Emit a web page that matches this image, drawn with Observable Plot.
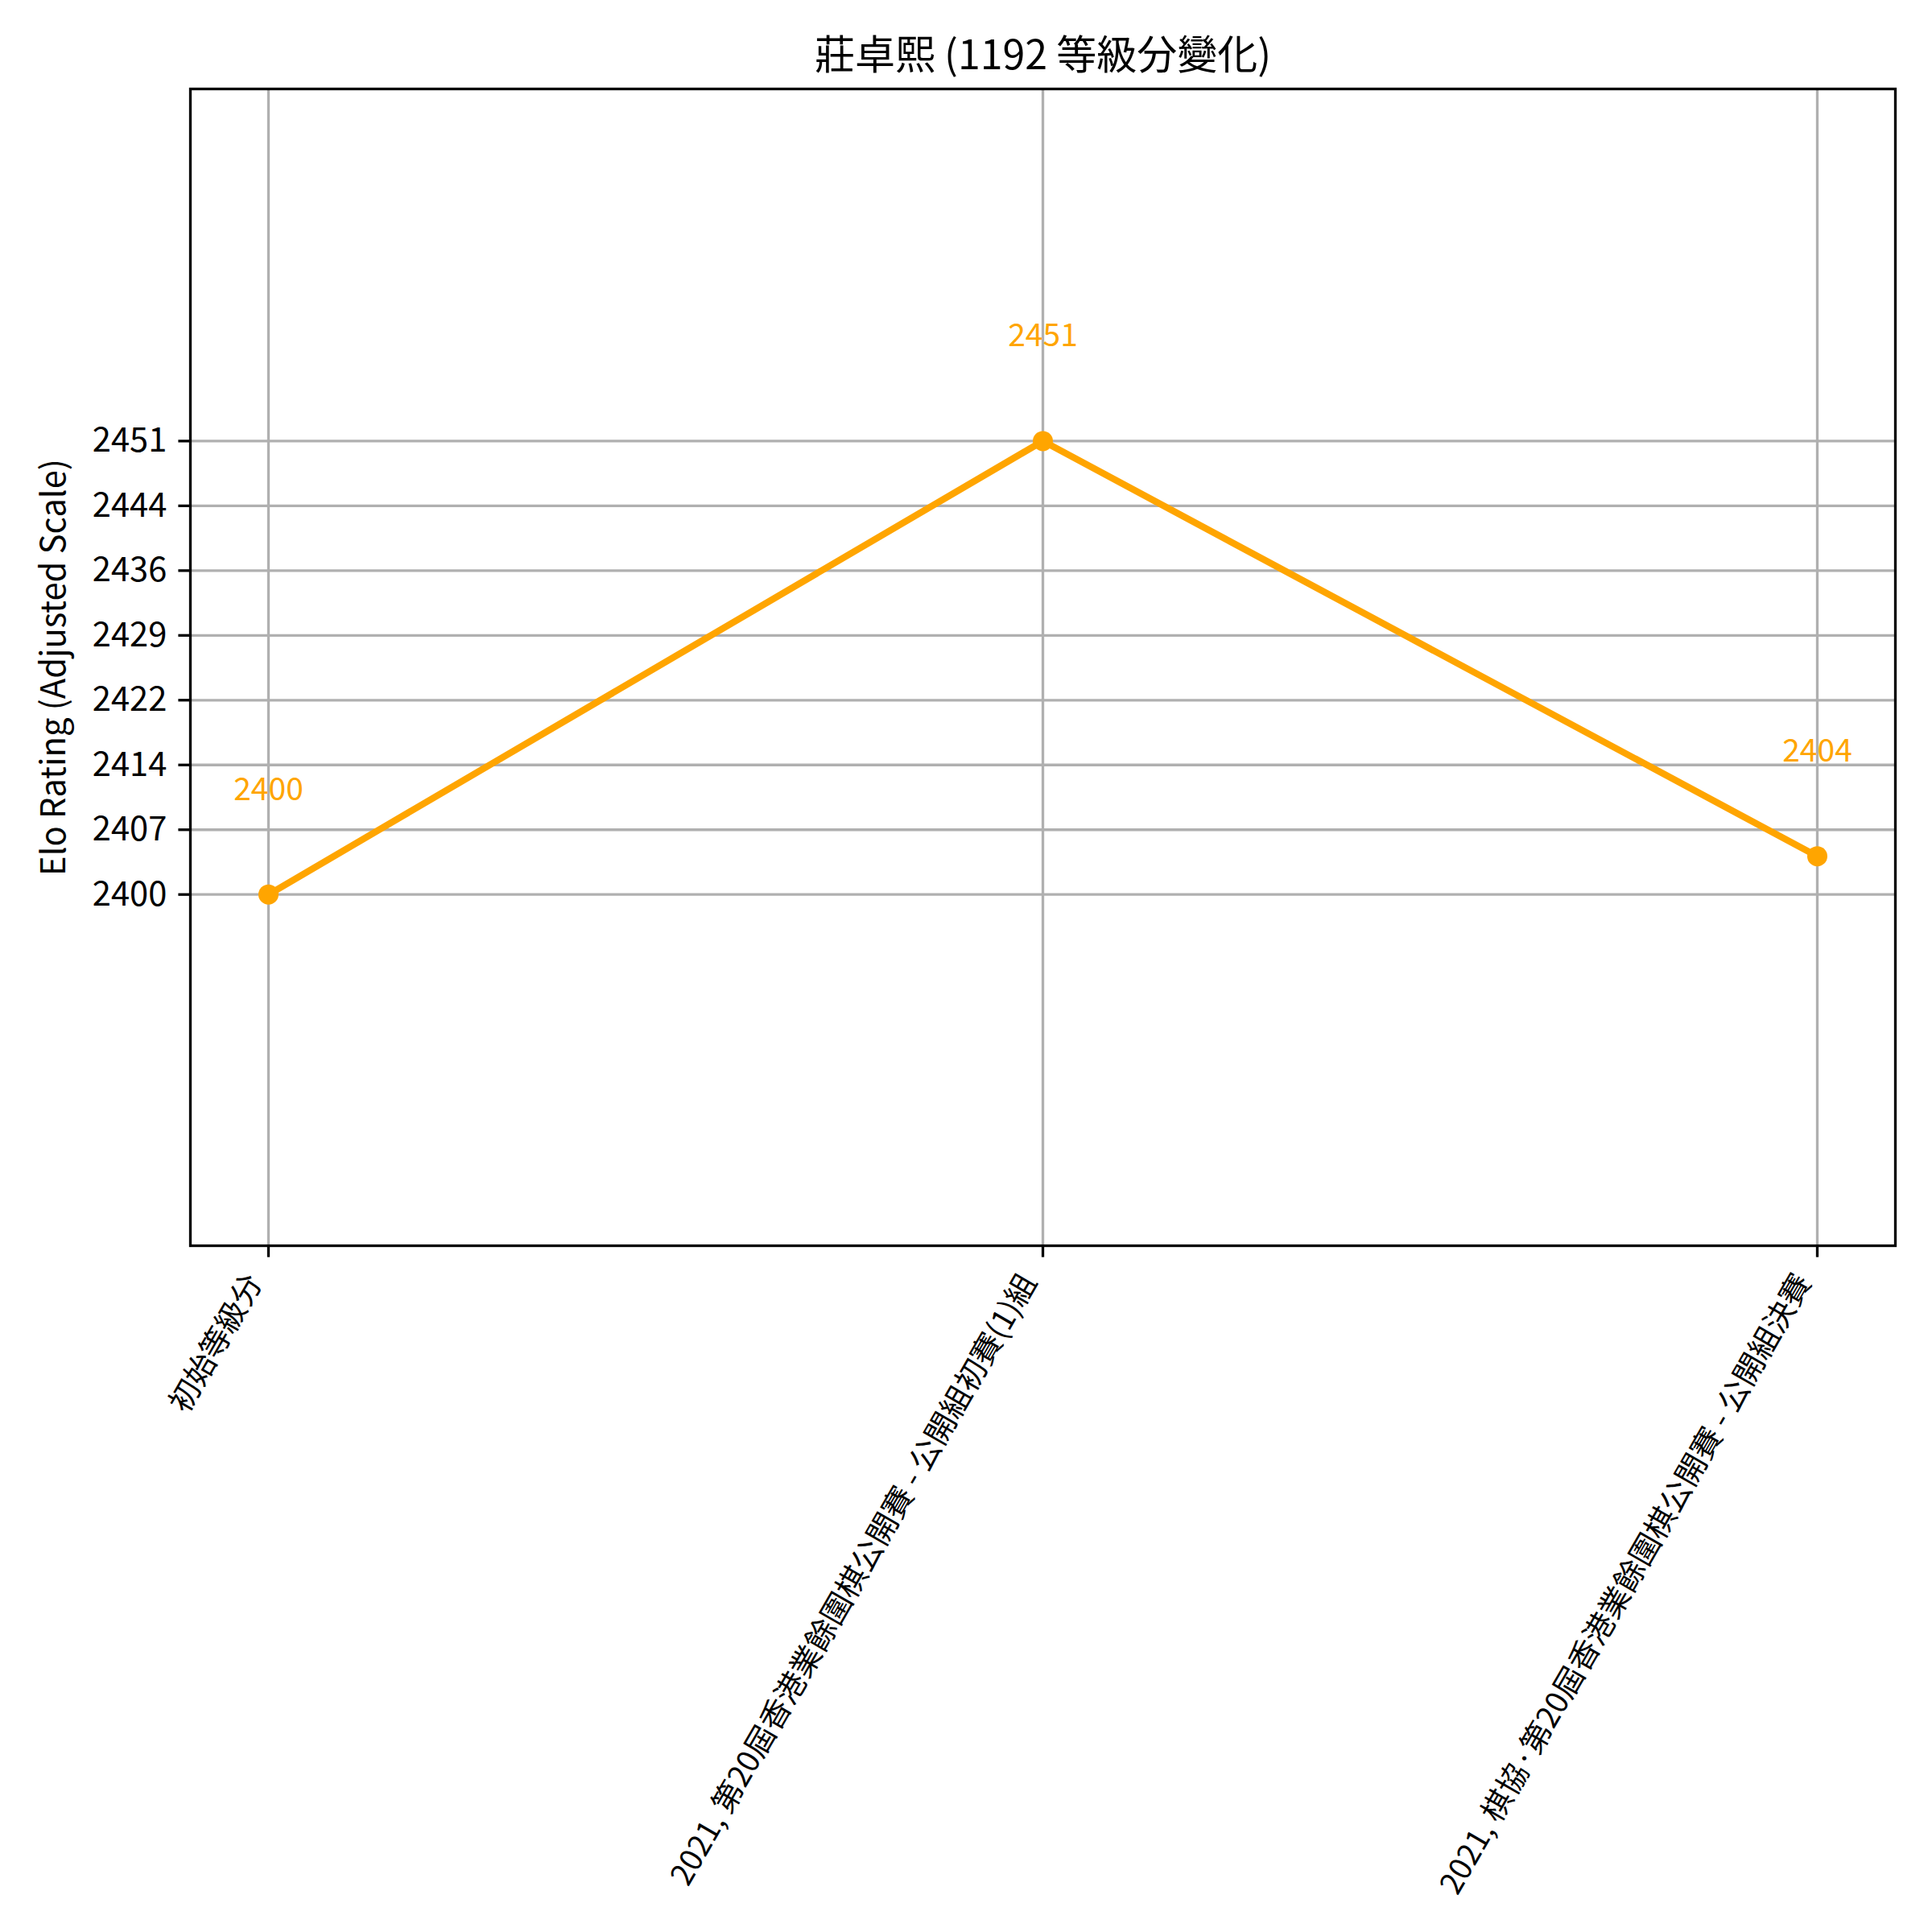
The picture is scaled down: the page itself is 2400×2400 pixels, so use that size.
<!DOCTYPE html>
<html><head><meta charset="utf-8">
<script src="https://cdn.jsdelivr.net/npm/d3@7"></script>
<script src="https://cdn.jsdelivr.net/npm/@observablehq/plot@0.6"></script>
<style>body{margin:0;background:#fff} svg{display:block}</style>
</head><body><div id="chart"></div>
<script>
const events = [
  "初始等級分",
  "2021, 第20屆香港業餘圍棋公開賽 - 公開組初賽(1)組",
  "2021, 棋協·第20屆香港業餘圍棋公開賽 - 公開組決賽"
];
const ratings = [2400, 2451, 2404.3];
const ratingLabels = ["2400", "2451", "2404"];
const yTickValues = [2400, 2407.286, 2414.571, 2421.857, 2429.143, 2436.429, 2443.714, 2451];
const yTickLabels = ["2400", "2407", "2414", "2422", "2429", "2436", "2444", "2451"];
const titleText = "莊卓熙 (1192 等級分變化)";
const yLabel = "Elo Rating (Adjusted Scale)";

const data = events.map((e, i) => ({event: e, rating: ratings[i], label: ratingLabels[i]}));
const FONT = "'Noto Sans CJK JP', 'Noto Sans', sans-serif";
const ORANGE = "#FFA500";

const chart = Plot.plot({
  width: 2400,
  height: 2400,
  marginLeft: 236,
  marginRight: 46,
  marginTop: 110,
  marginBottom: 853,
  style: {fontFamily: FONT, background: "#fff", color: "#000"},
  x: {type: "point", domain: events, padding: 0.1, axis: null},
  y: {domain: [2360.5, 2490.6], axis: null},
  marks: [
    // grid
    Plot.ruleX(events, {x: d => d, stroke: "#b0b0b0", strokeWidth: 3.3}),
    Plot.ruleY(yTickValues, {y: d => d, stroke: "#b0b0b0", strokeWidth: 3.3}),
    // line + markers
    Plot.line(data, {x: "event", y: "rating", stroke: ORANGE, strokeWidth: 8.3, strokeLinejoin: "round", strokeLinecap: "square"}),
    Plot.dot(data, {x: "event", y: "rating", r: 12.5, fill: ORANGE, stroke: null}),
    // value annotations
    Plot.text(data, {x: "event", y: "rating", text: "label", fill: ORANGE, fontSize: 39, dy: -130}),
    // frame
    Plot.frame({stroke: "#000", strokeWidth: 3.3}),
    // y axis ticks + labels
    Plot.axisY(yTickValues, {
      anchor: "left", tickSize: 14.6, tickPadding: 14.6, fontSize: 41.7, strokeWidth: 3.3,
      tickFormat: d => yTickLabels[yTickValues.indexOf(d)], label: null, fill: "#000", stroke: "#000"
    }),
    // x axis ticks (no text)
    Plot.axisX(events, {anchor: "bottom", tickSize: 14.6, strokeWidth: 3.3, text: null, label: null, stroke: "#000"}),
    // x tick labels
    Plot.text(events, {x: d => d, text: d => d, frameAnchor: "bottom", rotate: -60, textAnchor: "end", lineAnchor: "middle", dx: -17, dy: 39, fontSize: 38, fill: "#000"}),
    // title
    Plot.text([titleText], {text: d => d, frameAnchor: "top", lineAnchor: "middle", dy: -41, fontSize: 50, fill: "#000"}),
    // y label
    Plot.text([yLabel], {text: d => d, frameAnchor: "left", textAnchor: "middle", lineAnchor: "middle", rotate: -90, dx: -169, fontSize: 41.7, fill: "#000"})
  ]
});

document.getElementById("chart").append(chart);
</script>
</body></html>
